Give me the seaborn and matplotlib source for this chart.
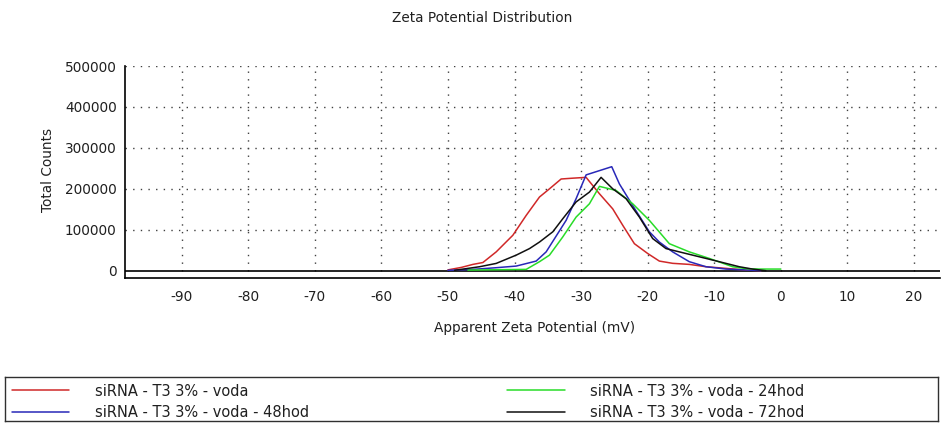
import matplotlib
matplotlib.use("Agg")
import matplotlib.pyplot as plt
import seaborn as sns
import pandas as pd
from matplotlib.lines import Line2D

# ---- data ----
voda_x = [-50, -48, -46.25, -44.75, -42.75, -40.25, -38.25, -36.25, -34.75, -33, -31.25,
          -29.25, -27.25, -25.25, -23.75, -22, -20, -18.25, -16.25, -13.75, -11.25, -8.25, -5.25, -3]
voda_y = [2000, 8000, 15400, 20000, 46000, 86600, 135000, 180000, 200000, 224000, 226000,
          228000, 188000, 151000, 111000, 66000, 42000, 23500, 18000, 15400, 9700, 5700, 1600, 0]

h24_x = [-47, -38.25, -36.25, -34.75, -32.75, -30.75, -28.75, -27.25, -24.75, -22.25, -19.75,
         -16.75, -13.75, -10.75, -7.25, -5.25, -3.25, 0]
h24_y = [1500, 3200, 22000, 38000, 82600, 131000, 163500, 206000, 196000, 163500, 123000,
         66000, 46000, 30000, 9700, 5000, 4000, 4000]

h48_x = [-50, -46.25, -42.75, -39.75, -36.75, -35.25, -32.25, -30.75, -29.25, -25.4, -24.25,
         -22.25, -19.75, -18.25, -16.25, -13.75, -11.25, -8.25, -5, -3]
h48_y = [1000, 3200, 7300, 11300, 23500, 46000, 123000, 176000, 234000, 254000, 212000,
         159000, 95000, 70000, 46000, 22000, 9700, 4000, 1600, 0]

h72_x = [-49, -45.25, -42.75, -39.75, -37.75, -36.25, -34.25, -32.75, -30.75, -28.75, -27,
         -25.25, -23.25, -21.25, -19.25, -17.25, -15.25, -12.25, -9.25, -6.25, -4.25, -2.25]
h72_y = [1000, 9700, 17800, 38000, 54000, 70000, 95000, 127000, 168000, 192000, 228000,
         200000, 176000, 131000, 78500, 54000, 46000, 34000, 22000, 9700, 4000, 0]

series_names = ["siRNA - T3 3% - voda", "siRNA - T3 3% - voda - 48hod",
                "siRNA - T3 3% - voda - 24hod", "siRNA - T3 3% - voda - 72hod"]
series_x = [voda_x, h48_x, h24_x, h72_x]
series_y = [voda_y, h48_y, h24_y, h72_y]
series_colors = ["#d02828", "#2828b8", "#28dc28", "#101010"]

x_major = [-90, -80, -70, -60, -50, -40, -30, -20, -10, 0, 10, 20]
x_minor = [-95, -85, -75, -65, -55, -45, -35, -25, -15, -5, 5, 15]
y_major = [0, 100000, 200000, 300000, 400000, 500000]
y_minor = [50000, 150000, 250000, 350000, 450000]

title = "Zeta Potential Distribution"
xlabel = "Apparent Zeta Potential (mV)"
ylabel = "Total Counts"

# ---- build long table ----
rows = []
for name, xs, ys in zip(series_names, series_x, series_y):
    for i, (xv, yv) in enumerate(zip(xs, ys)):
        rows.append({"series": name, "order": i, "x": xv, "y": yv})
df = pd.DataFrame(rows)

sns.set_style("white")
plt.rcParams["font.family"] = ["DejaVu Sans"]
FS = 9.8
LFS = 10.5

W, H = 949, 425
fig = plt.figure(figsize=(W / 100, H / 100), dpi=100)
ax = fig.add_axes([125 / W, (H - 277.7) / H, (940 - 125) / W, (277.7 - 66) / H])

XMIN, XMAX = -98.5, 23.9
YMIN, YMAX = -17100, 500000

# grid (dotted) drawn manually at major ticks
grid_style = dict(color="#404040", linewidth=1.0, linestyle=(0, (1, 4.5)), zorder=0.5)
ax.vlines(x_major, 0, YMAX, **grid_style)
ax.hlines([v for v in y_major if v > 0], XMIN, XMAX, **grid_style)
ax.axhline(0, color="black", linewidth=1.2, zorder=1)

palette = dict(zip(series_names, series_colors))
sns.lineplot(data=df, x="x", y="y", hue="series", units="series", estimator=None,
             sort=False, palette=palette, linewidth=1.1, ax=ax, legend=False, zorder=3)

ax.set_xlim(XMIN, XMAX)
ax.set_ylim(YMIN, YMAX)
ax.set_xticks(x_major)
ax.set_xticks(x_minor, minor=True)
ax.set_xticklabels([str(v) for v in x_major])
ax.set_yticks(y_major)
ax.set_yticks(y_minor, minor=True)
ax.set_yticklabels([str(v) for v in y_major])
ax.tick_params(axis="both", which="both", direction="inout", length=8, width=1.0,
               color="black", labelsize=FS, labelcolor="#202020")
ax.tick_params(axis="x", which="major", pad=5)
ax.tick_params(axis="y", which="major", pad=2)

for s in ["top", "right"]:
    ax.spines[s].set_visible(False)
for s in ["left", "bottom"]:
    ax.spines[s].set_color("black")
    ax.spines[s].set_linewidth(1.2)

ax.set_xlabel(xlabel, fontsize=FS, color="#202020")
ax.set_ylabel(ylabel, fontsize=FS, color="#202020")
ax.xaxis.set_label_coords((535 - 125) / (940 - 125), -(328 - 277.7) / (277.7 - 66))
ax.yaxis.set_label_coords(-(125 - 48) / (940 - 125), (277.7 - 170) / (277.7 - 66))
ax.xaxis.label.set_va("center")
ax.yaxis.label.set_va("center")

fig.text(482 / W, (H - 18) / H, title, ha="center", va="center", fontsize=FS, color="#202020")

# legend area with a box
lax = fig.add_axes([5 / W, (H - 421) / H, (938 - 5) / W, (421 - 377) / H])
lax.set_xticks([])
lax.set_yticks([])
for s in lax.spines.values():
    s.set_color("#303030")
    s.set_linewidth(1.0)
handles = [Line2D([], [], color=c, linewidth=1.1) for c in series_colors]
lax.legend(handles, series_names, ncol=2, loc="upper left", frameon=False,
           fontsize=LFS, handlelength=3.95, handletextpad=1.75, columnspacing=13.6,
           borderaxespad=0.0, borderpad=0.45, labelspacing=0.45,
           bbox_to_anchor=(0.0, 1.0), labelcolor="#202020")

fig.savefig("out.png", dpi=100)
